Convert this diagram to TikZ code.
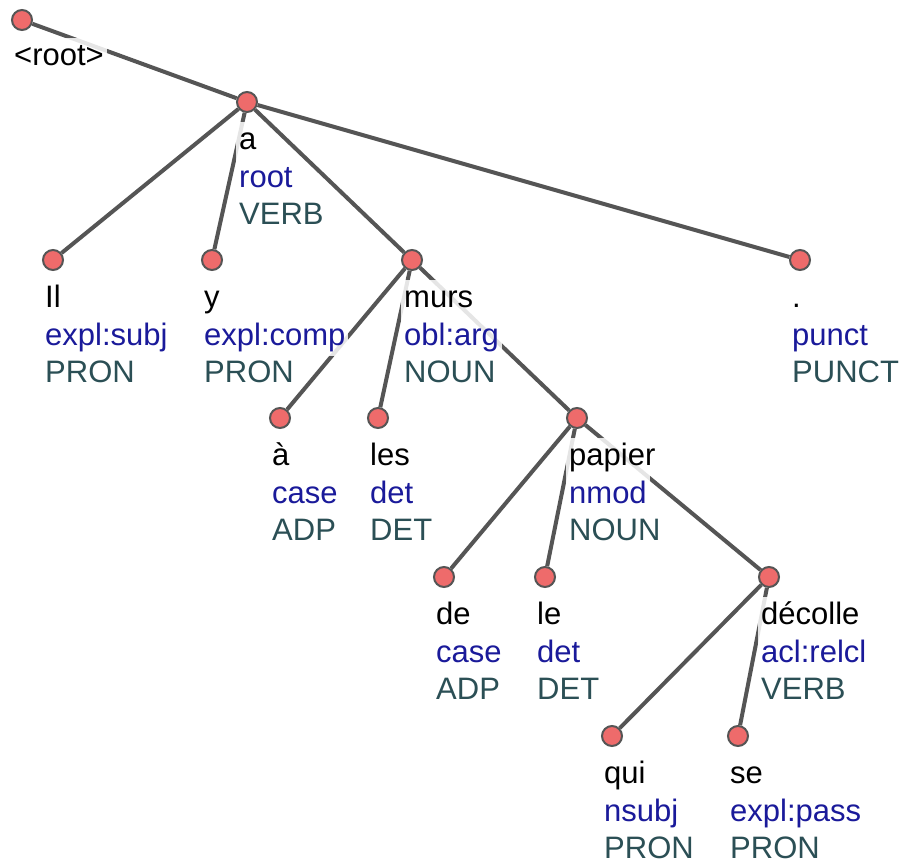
\documentclass[tikz,border=0pt]{standalone}
\usepackage{fontspec}
\setmainfont{Liberation Sans}
\usetikzlibrary{backgrounds}

\definecolor{edgegray}{HTML}{555555}
\definecolor{tokred}{HTML}{EE6B6B}
\definecolor{relblue}{HTML}{1A1A9A}
\definecolor{posteal}{HTML}{2B4F55}

\begin{document}
\begin{tikzpicture}[
    x=1pt, y=-1pt,
    tok/.style={circle, draw=edgegray, line width=2pt, fill=tokred, minimum size=20pt, inner sep=0pt},
    dep/.style={draw=edgegray, line width=4pt},
    lbl/.style={anchor=base west, font=\fontsize{31}{38}\selectfont, fill=white, fill opacity=0.85, text opacity=1,
                inner xsep=3pt, inner ysep=4pt, text height=23pt, text depth=7pt},
    poslbl/.style={lbl, text=posteal, inner ysep=3pt, text height=24pt, text depth=0pt}
]
\useasboundingbox (0,0) rectangle (906,863);

% Root token
\node[tok] (root) at (22,20) {};
\node[lbl] (root-w) at (11,65) {<root>};

% Tokens: name/x/y/word/relation/POS
\foreach \n/\x/\y/\w/\r/\p in {
    a/247/102/a/root/VERB,
    il/53/260/Il/expl:subj/PRON,
    y/212/260/y/expl:comp/PRON,
    murs/412/260/murs/obl:arg/NOUN,
    punct/800/260/./punct/PUNCT,
    a2/280/418/à/case/ADP,
    les/378/418/les/det/DET,
    papier/577/418/papier/nmod/NOUN,
    de/444/577/de/case/ADP,
    le/545/577/le/det/DET,
    decolle/769/577/décolle/acl:relcl/VERB,
    qui/612/736/qui/nsubj/PRON,
    se/738/736/se/expl:pass/PRON} {
  \node[tok] (\n) at (\x,\y) {};
  \node[lbl, text=black] (\n-w) at ({\x-11},{\y+47}) {\w};
  \node[lbl, text=relblue] (\n-r) at ({\x-11},{\y+85}) {\r};
  \node[poslbl] (\n-p) at ({\x-11},{\y+122}) {\p};
}

% Dependencies
\begin{scope}[on background layer]
  \draw[dep] (root) -- (a);
  \draw[dep] (a) -- (il);
  \draw[dep] (a) -- (y);
  \draw[dep] (a) -- (murs);
  \draw[dep] (a) -- (punct);
  \draw[dep] (murs) -- (a2);
  \draw[dep] (murs) -- (les);
  \draw[dep] (murs) -- (papier);
  \draw[dep] (papier) -- (de);
  \draw[dep] (papier) -- (le);
  \draw[dep] (papier) -- (decolle);
  \draw[dep] (decolle) -- (qui);
  \draw[dep] (decolle) -- (se);
\end{scope}

\end{tikzpicture}
\end{document}
